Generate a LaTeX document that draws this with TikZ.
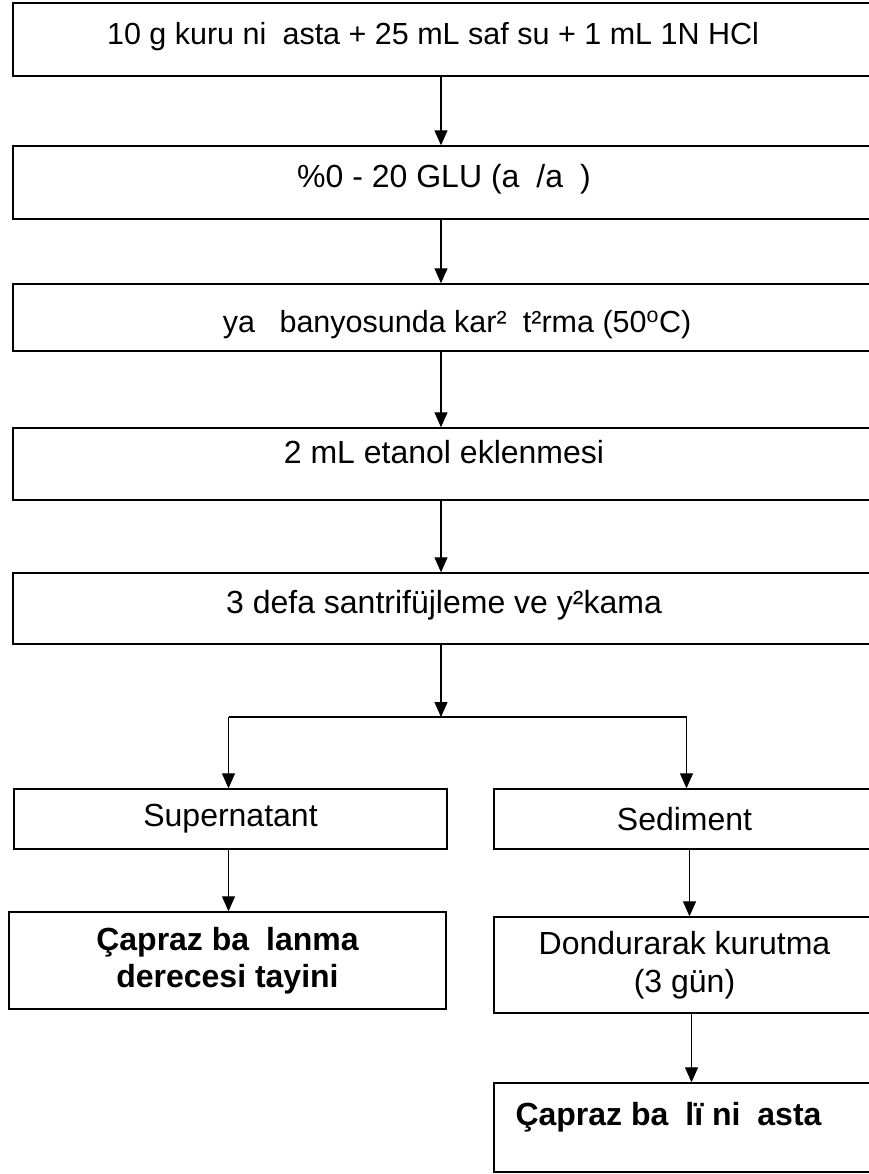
\documentclass[tikz,border=0pt]{standalone}
\usepackage{fontspec}
\setmainfont{Liberation Sans}
\usepackage{tikz}
\usetikzlibrary{arrows.meta,positioning}
\newcommand{\miss}{\hspace{0.53em}}

\begin{document}
\begin{tikzpicture}[x=1pt,y=-1pt,
    stepbox/.style={draw,line width=1.4pt,inner sep=0pt,text height=#1,text depth=6pt,
                    font=\fontsize{32}{38}\selectfont},
    stepbox/.default=17pt,
    subbox/.style={draw,line width=1.4pt,inner sep=0pt,align=center,
                   font=\fontsize{32}{38}\selectfont},
    arr/.style={-{Triangle[length=15pt,width=13pt]},line width=1.2pt}]
    \useasboundingbox (0,0) rectangle (869,1174);
    \clip (0,0) rectangle (869,1174);
    \node[stepbox,minimum width=862pt,minimum height=73pt,font=\fontsize{30.5}{38}\selectfont] (kuru) at (444,39.5)
        {10 g kuru ni\miss asta + 25 mL saf su + 1 mL 1N HCl\hspace*{22pt}};
    \node[stepbox,minimum width=862pt,minimum height=73pt] (glu) at (444,182.5)
        {\%0 - 20 GLU (a\miss/a\miss)};
    \node[stepbox=35pt,minimum width=862pt,minimum height=67pt,font=\fontsize{30.5}{38}\selectfont] (yag) at (444,317.5)
        {\hspace*{26pt}ya\miss\ banyosunda kar²\miss t²rma (50\textsuperscript{o}C)};
    \node[stepbox=4pt,minimum width=862pt,minimum height=72pt] (etanol) at (444,464)
        {2 mL etanol eklenmesi};
    \node[stepbox=15pt,minimum width=862pt,minimum height=71pt] (santri) at (444,608.5)
        {3 defa santrifüjleme ve y²kama};
    \node[subbox,minimum width=433pt,minimum height=60pt] (sup) at (230.5,819) {Supernatant};
    \node[subbox,minimum width=381pt,minimum height=60pt] (sed) at (684.5,819) {Sediment};
    \node[subbox,minimum width=437pt,minimum height=97pt,font=\fontsize{32}{37}\selectfont\bfseries]
        (derece) at (227.5,960.5) {Çapraz ba\miss lanma\\derecesi tayini};
    \node[subbox,minimum width=381pt,minimum height=96pt] (dond) at (684.5,965)
        {Dondurarak kurutma\\(3 gün)};
    \node[stepbox=1pt,minimum width=381pt,minimum height=89pt,font=\fontsize{32}{38}\selectfont\bfseries]
        (nisasta) at (684.5,1127.5) {Çapraz ba\miss lï ni\miss asta\hspace*{32pt}};
    \coordinate (split) at (441,717);
    \draw[arr] ([xshift=-3pt]kuru.south) -- ([xshift=-3pt]glu.north);
    \draw[arr] ([xshift=-3pt]glu.south) -- ([xshift=-3pt]yag.north);
    \draw[arr] ([xshift=-3pt]yag.south) -- ([xshift=-3pt]etanol.north);
    \draw[arr] ([xshift=-3pt]etanol.south) -- ([xshift=-3pt]santri.north);
    \draw[arr] (santri.south -| split) -- (split);
    \draw[line width=1.2pt] ([xshift=-2pt]sup.north |- split) -- ([xshift=2pt]sed.north |- split);
    \draw[arr] ([xshift=-2pt]sup.north |- split) -- ([xshift=-2pt]sup.north);
    \draw[arr] ([xshift=2pt]sed.north |- split) -- ([xshift=2pt]sed.north);
    \draw[arr] ([xshift=-2pt]sup.south) -- ([xshift=-2pt]sup.south |- derece.north);
    \draw[arr] ([xshift=5pt]sed.south) -- ([xshift=5pt]sed.south |- dond.north);
    \draw[arr] ([xshift=7pt]dond.south) -- ([xshift=7pt]dond.south |- nisasta.north);
\end{tikzpicture}
\end{document}
